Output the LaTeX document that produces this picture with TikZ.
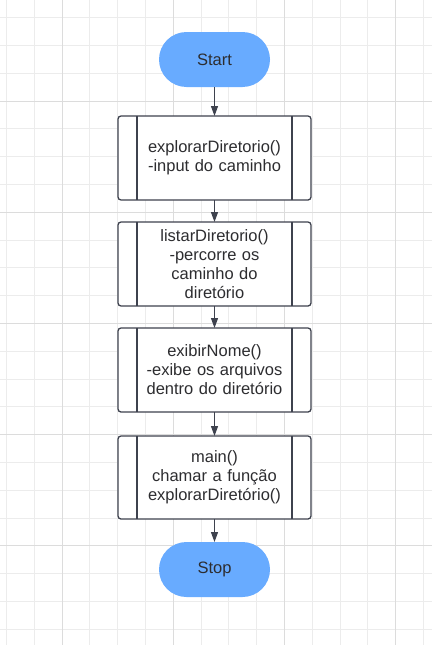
\documentclass[tikz,border=0pt]{standalone}
\usepackage{fontspec}
\setmainfont{Liberation Sans}
\usepackage{tikz}
\usetikzlibrary{positioning,arrows.meta,calc}
\usepackage{xcolor}
\definecolor{TermBlue}{RGB}{104,171,255}
\definecolor{EdgeGray}{RGB}{62,66,78}
\definecolor{LabelText}{RGB}{45,45,48}
\definecolor{GridLight}{RGB}{236,236,236}
\definecolor{GridDark}{RGB}{220,220,220}

\begin{document}
\begin{tikzpicture}[
    x=1pt, y=-1pt,
    term/.style={rectangle, rounded corners=27.5pt, fill=TermBlue, draw=none, outer sep=0pt,
        minimum width=111pt, minimum height=55pt, font=\fontsize{16.5}{19}\selectfont, text=LabelText},
    subproc/.style={rectangle, rounded corners=3pt, draw=EdgeGray, fill=white, line width=1.3pt,
        outer sep=0pt, minimum width=193pt, minimum height=84pt, text width=150pt,
        font=\fontsize{16.5}{19}\selectfont, text=LabelText, align=center},
    flow/.style={-{Triangle[width=7pt,length=10pt]}, draw=EdgeGray, line width=1.2pt},
    gridline/.style={GridLight, line width=1pt}
]
\useasboundingbox[fill=white] (0,0) rectangle (432,645);

% background grid
\foreach \k in {0,...,15} {
    \draw[gridline] ({6.4+27.8*\k},0) -- ({6.4+27.8*\k},645);
}
\foreach \k in {0,...,23} {
    \draw[gridline] (0,{17.6+27.8*\k}) -- (432,{17.6+27.8*\k});
}
\foreach \k in {0,4,8,12} {
    \draw[GridDark, line width=1pt] ({62+27.8*\k},0) -- ({62+27.8*\k},645);
}
\foreach \k in {0,4,8,12,16,20} {
    \draw[GridDark, line width=1pt] (0,{101+27.8*\k}) -- (432,{101+27.8*\k});
}

\node[term] (start) at (214.5,59.5) {Start};
\node[subproc, below=29pt of start] (explorar) {explorarDiretorio()\\-input do caminho};
\node[subproc, below=22pt of explorar] (listar) {listarDiretorio()\\-percorre os\\caminho do\\diretório};
\node[subproc, below=22pt of listar] (exibir) {exibirNome()\\-exibe os arquivos\\dentro do diretório};
\node[subproc, below=24pt of exibir, minimum height=83pt] (mainfn) {main()\\chamar a função\\explorarDiretório()};
\node[term, below=23pt of mainfn] (stop) {Stop};

% side bars of the subroutine boxes
\foreach \n in {explorar,listar,exibir,mainfn} {
    \draw[EdgeGray, line width=1.3pt] ($(\n.north west)+(19,0)$) -- ($(\n.south west)+(19,0)$);
    \draw[EdgeGray, line width=1.3pt] ($(\n.north east)+(-19,0)$) -- ($(\n.south east)+(-19,0)$);
}

\draw[flow] (start) -- (explorar);
\draw[flow] (explorar) -- (listar);
\draw[flow] (listar) -- (exibir);
\draw[flow] (exibir) -- (mainfn);
\draw[flow] (mainfn) -- (stop);
\end{tikzpicture}
\end{document}
